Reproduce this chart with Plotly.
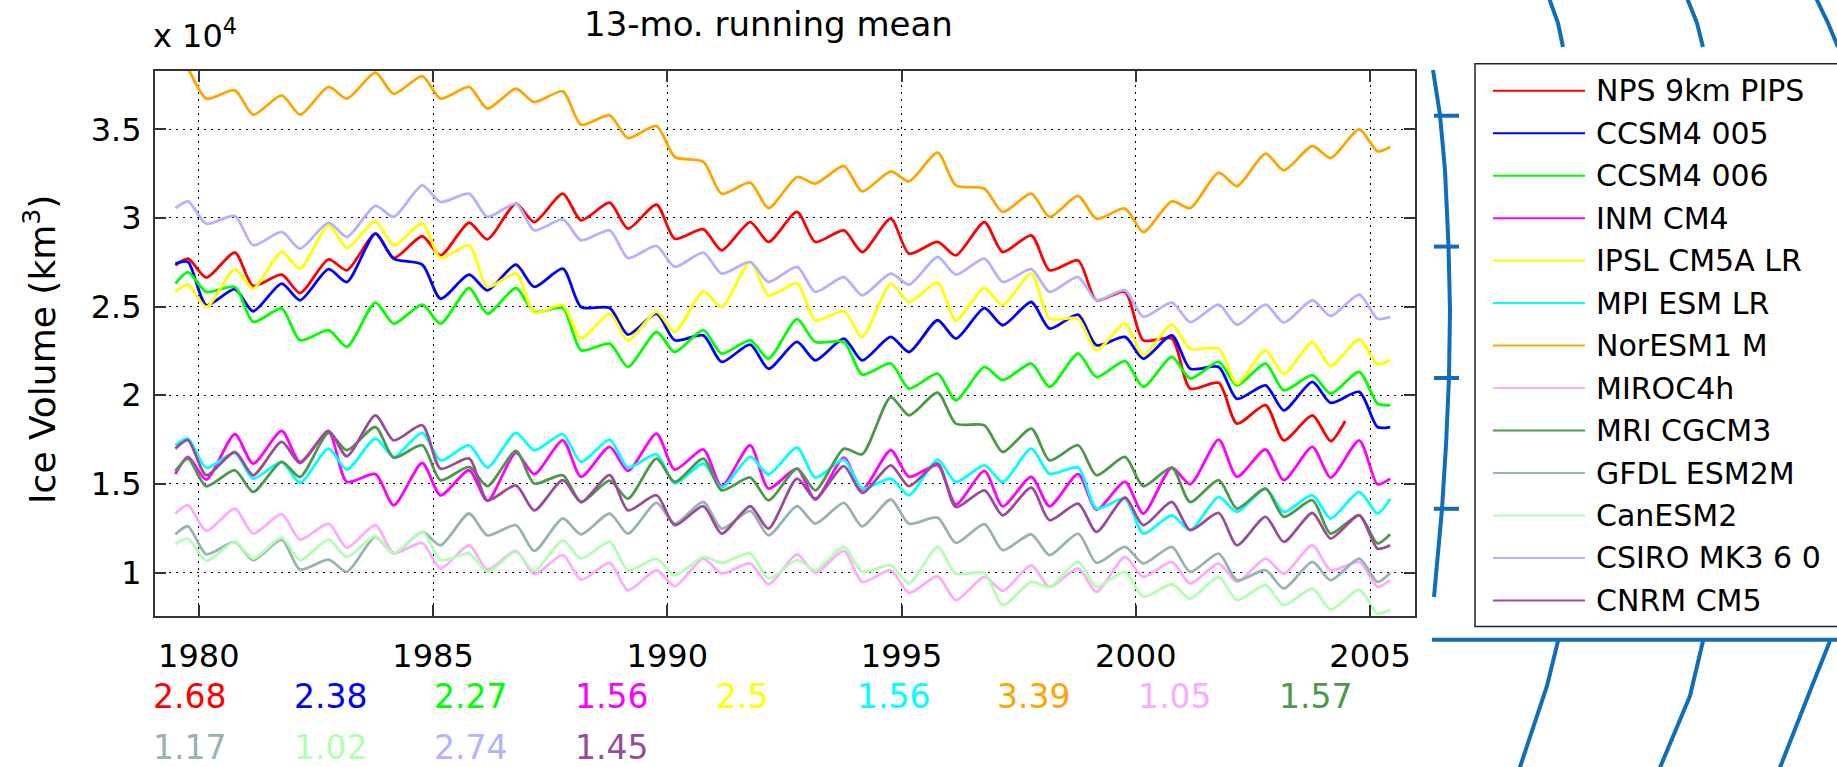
import plotly.graph_objects as go

# ---------------- data (values in units of 10^4 km^3) ----------------
years = [1979.50, 1979.77, 1980.16, 1980.77, 1981.16, 1981.77, 1982.16, 1982.77, 1983.16, 1983.77,
         1984.16, 1984.77, 1985.16, 1985.77, 1986.16, 1986.77, 1987.16, 1987.77, 1988.16, 1988.77,
         1989.16, 1989.77, 1990.16, 1990.77, 1991.16, 1991.77, 1992.16, 1992.77, 1993.16, 1993.77,
         1994.16, 1994.77, 1995.16, 1995.77, 1996.16, 1996.77, 1997.16, 1997.77, 1998.16, 1998.77,
         1999.16, 1999.77, 2000.16, 2000.77, 2001.16, 2001.77, 2002.16, 2002.77, 2003.16, 2003.77,
         2004.16, 2004.77, 2005.16, 2005.43]
years_nps = years[:51] + [2004.47]

nps_9km_pips = [2.733, 2.771, 2.664, 2.805, 2.617, 2.68, 2.577, 2.767, 2.705, 2.912,
                2.774, 2.897, 2.789, 2.973, 2.880, 3.081, 2.977, 3.137, 2.987, 3.086,
                2.94, 3.075, 2.883, 2.936, 2.818, 2.977, 2.865, 3.034, 2.865, 2.930,
                2.808, 2.996, 2.799, 2.865, 2.789, 2.977, 2.808, 2.902, 2.705, 2.76,
                2.536, 2.583, 2.31, 2.32, 2.038, 2.07, 1.84, 1.944, 1.746, 1.887,
                1.742, 1.855]
ccsm4_005 = [2.742, 2.752, 2.508, 2.598, 2.474, 2.63, 2.536, 2.711, 2.639, 2.912,
             2.771, 2.737, 2.545, 2.68, 2.592, 2.737, 2.611, 2.714, 2.498, 2.492,
             2.342, 2.46, 2.31, 2.338, 2.188, 2.286, 2.15, 2.301, 2.197, 2.32,
             2.197, 2.329, 2.244, 2.423, 2.32, 2.492, 2.395, 2.526, 2.376, 2.455,
             2.282, 2.329, 2.207, 2.338, 2.15, 2.16, 1.98, 2.056, 1.915, 2.075,
             1.957, 2.019, 1.821, 1.821]
ccsm4_006 = [2.63, 2.695, 2.583, 2.611, 2.414, 2.489, 2.31, 2.367, 2.273, 2.523,
             2.404, 2.511, 2.404, 2.605, 2.46, 2.605, 2.47, 2.492, 2.254, 2.291,
             2.16, 2.357, 2.244, 2.367, 2.235, 2.31, 2.207, 2.429, 2.30, 2.30,
             2.117, 2.179, 2.038, 2.122, 1.972, 2.16, 2.085, 2.179, 2.047, 2.235,
             2.103, 2.192, 2.047, 2.216, 2.094, 2.188, 2.056, 2.179, 2.028, 2.113,
             2.009, 2.132, 1.953, 1.944]
inm_cm4 = [1.555, 1.652, 1.524, 1.78, 1.615, 1.799, 1.624, 1.793, 1.511, 1.555,
           1.38, 1.618, 1.436, 1.577, 1.404, 1.675, 1.555, 1.746, 1.54, 1.709,
           1.573, 1.784, 1.581, 1.694, 1.487, 1.718, 1.474, 1.586, 1.412, 1.648,
           1.468, 1.69, 1.54, 1.605, 1.385, 1.573, 1.374, 1.54, 1.374, 1.555,
           1.355, 1.511, 1.333, 1.592, 1.498, 1.75, 1.54, 1.694, 1.521, 1.709,
           1.536, 1.746, 1.498, 1.53]
ipsl_cm5a_lr = [2.583, 2.624, 2.498, 2.711, 2.602, 2.808, 2.714, 2.959, 2.831, 2.981,
                2.846, 2.968, 2.774, 2.846, 2.611, 2.686, 2.466, 2.508, 2.32, 2.46,
                2.31, 2.47, 2.357, 2.586, 2.498, 2.752, 2.564, 2.630, 2.423, 2.474,
                2.329, 2.630, 2.526, 2.635, 2.423, 2.605, 2.508, 2.686, 2.432, 2.432,
                2.254, 2.404, 2.226, 2.398, 2.263, 2.263, 2.066, 2.254, 2.12, 2.30,
                2.165, 2.316, 2.175, 2.20]
mpi_esm_lr = [1.718, 1.756, 1.592, 1.675, 1.53, 1.624, 1.506, 1.699, 1.581, 1.756,
              1.652, 1.788, 1.633, 1.718, 1.592, 1.788, 1.69, 1.78, 1.624, 1.75,
              1.592, 1.667, 1.502, 1.615, 1.479, 1.652, 1.555, 1.705, 1.536, 1.637,
              1.474, 1.53, 1.436, 1.637, 1.511, 1.605, 1.511, 1.699, 1.558, 1.592,
              1.361, 1.417, 1.22, 1.323, 1.239, 1.427, 1.342, 1.474, 1.342, 1.436,
              1.305, 1.455, 1.333, 1.417]
noresm1_m = [3.92, 3.84, 3.673, 3.72, 3.583, 3.692, 3.583, 3.739, 3.673, 3.82,
             3.70, 3.80, 3.673, 3.739, 3.617, 3.729, 3.654, 3.714, 3.526, 3.579,
             3.451, 3.519, 3.344, 3.316, 3.137, 3.199, 3.056, 3.231, 3.194, 3.293,
             3.150, 3.263, 3.207, 3.368, 3.184, 3.165, 3.034, 3.137, 3.006, 3.124,
             2.996, 3.053, 2.921, 3.094, 3.056, 3.256, 3.18, 3.363, 3.269, 3.406,
             3.338, 3.5, 3.376, 3.40]
miroc4h = [1.333, 1.38, 1.235, 1.361, 1.22, 1.329, 1.186, 1.276, 1.141, 1.267,
           1.111, 1.167, 1.023, 1.154, 1.017, 1.122, 0.991, 1.098, 0.96, 1.055,
           0.9, 1.013, 0.923, 1.079, 0.994, 1.051, 0.934, 1.103, 0.998, 1.122,
           0.947, 1.013, 0.885, 0.979, 0.844, 0.976, 0.897, 1.041, 0.919, 1.023,
           0.891, 1.088, 0.976, 1.06, 0.938, 1.051, 0.947, 1.079, 0.994, 1.154,
           1.013, 1.06, 0.919, 0.957]
mri_cgcm3 = [1.573, 1.643, 1.487, 1.577, 1.455, 1.624, 1.539, 1.788, 1.69, 1.821,
             1.648, 1.718, 1.521, 1.596, 1.487, 1.686, 1.502, 1.549, 1.398, 1.519,
             1.417, 1.643, 1.511, 1.643, 1.464, 1.536, 1.408, 1.586, 1.464, 1.699,
             1.667, 1.99, 1.887, 2.015, 1.84, 1.83, 1.68, 1.812, 1.633, 1.718,
             1.549, 1.652, 1.487, 1.592, 1.398, 1.521, 1.361, 1.474, 1.314, 1.408,
             1.22, 1.323, 1.164, 1.216]
gfdl_esm2m = [1.216, 1.261, 1.103, 1.173, 1.07, 1.186, 1.017, 1.073, 1.004, 1.201,
              1.107, 1.229, 1.154, 1.333, 1.21, 1.267, 1.122, 1.305, 1.216, 1.333,
              1.22, 1.393, 1.276, 1.398, 1.248, 1.348, 1.21, 1.374, 1.276, 1.393,
              1.261, 1.412, 1.276, 1.31, 1.167, 1.273, 1.126, 1.216, 1.098, 1.22,
              1.055, 1.145, 1.051, 1.145, 1.004, 1.107, 0.957, 1.013, 0.91, 1.06,
              0.957, 1.079, 0.947, 0.998]
canesm2 = [1.16, 1.192, 1.066, 1.173, 1.079, 1.197, 1.07, 1.186, 1.088, 1.205,
           1.107, 1.229, 1.07, 1.107, 1.004, 1.117, 1.009, 1.182, 1.079, 1.173,
           1.013, 1.079, 0.985, 1.088, 1.055, 1.107, 0.966, 1.07, 1.013, 1.145,
           1.004, 1.041, 0.938, 1.145, 0.994, 0.998, 0.816, 0.947, 0.919, 1.06,
           0.919, 1.004, 0.863, 0.934, 0.853, 0.976, 0.844, 0.929, 0.816, 0.91,
           0.791, 0.904, 0.769, 0.791]
csiro_mk3_6_0 = [3.056, 3.094, 2.968, 3.011, 2.846, 2.921, 2.827, 2.974, 2.893, 3.068,
                 3.006, 3.184, 3.09, 3.137, 3.006, 3.081, 2.93, 2.992, 2.874, 2.93,
                 2.774, 2.842, 2.724, 2.805, 2.686, 2.752, 2.639, 2.724, 2.583, 2.667,
                 2.564, 2.686, 2.624, 2.78, 2.68, 2.771, 2.639, 2.711, 2.583, 2.667,
                 2.536, 2.592, 2.442, 2.523, 2.413, 2.511, 2.398, 2.511, 2.41, 2.536,
                 2.447, 2.568, 2.432, 2.442]
cnrm_cm5 = [1.699, 1.746, 1.549, 1.68, 1.549, 1.737, 1.618, 1.799, 1.656, 1.887,
            1.746, 1.831, 1.586, 1.643, 1.408, 1.492, 1.351, 1.521, 1.398, 1.549,
            1.351, 1.436, 1.267, 1.374, 1.22, 1.374, 1.248, 1.53, 1.417, 1.6,
            1.449, 1.605, 1.487, 1.615, 1.37, 1.464, 1.323, 1.479, 1.295, 1.389,
            1.229, 1.423, 1.267, 1.398, 1.239, 1.336, 1.154, 1.314, 1.173, 1.336,
            1.192, 1.323, 1.135, 1.154]

model_names = ["NPS 9km PIPS", "CCSM4 005", "CCSM4 006", "INM CM4", "IPSL CM5A LR",
               "MPI ESM LR", "NorESM1 M", "MIROC4h", "MRI CGCM3", "GFDL ESM2M",
               "CanESM2", "CSIRO MK3 6 0", "CNRM CM5"]
mean_volumes = [2.68, 2.38, 2.27, 1.56, 2.5, 1.56, 3.39, 1.05, 1.57, 1.17, 1.02, 2.74, 1.45]
xtick_years = [1980, 1985, 1990, 1995, 2000, 2005]
ytick_vals = [1, 1.5, 2, 2.5, 3, 3.5]

# ---------------- styling ----------------
colors = ["#FF0000", "#0000FF", "#00FF00", "#FF00FF", "#FFFF00", "#00FFFF", "#FFA500",
          "#FFAAFF", "#4C994C", "#99B2B2", "#B2FFB2", "#B2B2FF", "#994C99"]
series = [nps_9km_pips, ccsm4_005, ccsm4_006, inm_cm4, ipsl_cm5a_lr, mpi_esm_lr, noresm1_m,
          miroc4h, mri_cgcm3, gfdl_esm2m, canesm2, csiro_mk3_6_0, cnrm_cm5]
times = [years_nps] + [years] * 12

W, H = 1837, 767
L, R, TOP, BOT = 155, 1415, 71, 616
FONT = "DejaVu Sans, Liberation Sans, Arial, sans-serif"


def px(x):
    return (x - L) / (R - L)


def py(y):
    return (BOT - y) / (BOT - TOP)


def path(points):
    return "M " + " L ".join(f"{px(x):.5f},{py(y):.5f}" for x, y in points)


fig = go.Figure()
for name, t, v, c in zip(model_names, times, series, colors):
    fig.add_trace(go.Scatter(x=t, y=v, mode="lines", name=name,
                             line=dict(color=c, width=2.8, shape="spline", smoothing=0.7),
                             showlegend=False))

axis_common = dict(showline=True, linecolor="#333333", linewidth=2, mirror="ticks",
                   ticks="inside", ticklen=11, tickwidth=1.5, tickcolor="#333333",
                   showgrid=True, gridcolor="#000000", gridwidth=1, griddash="2px,5px",
                   zeroline=False, tickfont=dict(family=FONT, size=32, color="black"))

fig.update_xaxes(range=[1979.065, 2005.96], tickvals=xtick_years,
                 ticktext=[str(y) for y in xtick_years], ticklabelstandoff=11, **axis_common)
fig.update_yaxes(range=[0.755, 3.829], tickvals=ytick_vals,
                 ticktext=[f"{v:g}" for v in ytick_vals], ticklabelstandoff=5, **axis_common)

shapes = []
annotations = []

# decorative map graticule fragments at right
blue = "#0F6DBA"
deco = [
    [(1433, 70), (1440, 115), (1445, 170), (1448.5, 246), (1450, 310), (1449, 378),
     (1446, 445), (1442, 509), (1434, 597)],
    [(1434, 115.7), (1459, 115.7)], [(1434, 246.6), (1459, 246.6)],
    [(1434, 378), (1459, 378)], [(1434, 508.8), (1459, 508.8)],
    [(1432, 639.7), (1845, 639.7)],
    [(1549, -2), (1558, 23), (1563, 47)], [(1687, -2), (1697, 23), (1703, 47)],
    [(1816, -2), (1828, 23), (1838, 47)],
    [(1558, 641), (1547, 686), (1519, 770)], [(1703, 641), (1690, 696), (1659, 770)],
    [(1830, 641), (1812, 686), (1779, 770)],
]
for pts in deco:
    shapes.append(dict(type="path", xref="paper", yref="paper", path=path(pts),
                       line=dict(color=blue, width=4), layer="above"))

# legend box
shapes.append(dict(type="rect", xref="paper", yref="paper", x0=px(1475), x1=px(1850),
                   y0=py(626.5), y1=py(63.7), fillcolor="white",
                   line=dict(color="#222222", width=1.5), layer="above"))
for i, (name, c) in enumerate(zip(model_names, colors)):
    yy = 90.7 + 42.48 * i
    shapes.append(dict(type="line", xref="paper", yref="paper", x0=px(1493), x1=px(1585),
                       y0=py(yy), y1=py(yy), line=dict(color=c, width=2), layer="above"))
    annotations.append(dict(text=name, xref="paper", yref="paper", x=px(1594), y=py(yy),
                            xanchor="left", yanchor="middle", showarrow=False,
                            font=dict(family=FONT, size=30, color="black")))

# mean values below the axis
for i, (v, c) in enumerate(zip(mean_volumes, colors)):
    row, col = divmod(i, 9)
    annotations.append(dict(text=f"{v:g}", xref="paper", yref="paper",
                            x=px(151 + 140.7 * col), y=py(696 + 51.5 * row),
                            xanchor="left", yanchor="middle", showarrow=False,
                            font=dict(family=FONT, size=33, color=c)))

# title, exponent, y label
annotations.append(dict(text="13-mo. running mean", xref="paper", yref="paper",
                        x=px(768), y=py(24), xanchor="center", yanchor="middle",
                        showarrow=False, font=dict(family=FONT, size=34, color="black")))
annotations.append(dict(text="x 10<sup>4</sup>", xref="paper", yref="paper",
                        x=px(151), y=py(34), xanchor="left", yanchor="middle",
                        showarrow=False, font=dict(family=FONT, size=32, color="black")))
annotations.append(dict(text="Ice Volume (km<sup>3</sup>)", xref="paper", yref="paper",
                        x=px(40), y=py(350), xanchor="center", yanchor="middle",
                        textangle=-90, showarrow=False,
                        font=dict(family=FONT, size=36, color="black")))

fig.update_layout(width=W, height=H, autosize=False,
                  margin=dict(l=L, r=W - R, t=TOP, b=H - BOT, pad=0),
                  paper_bgcolor="white", plot_bgcolor="white",
                  font=dict(family=FONT, color="black"),
                  shapes=shapes, annotations=annotations, showlegend=False)

fig.write_html("out.html")
